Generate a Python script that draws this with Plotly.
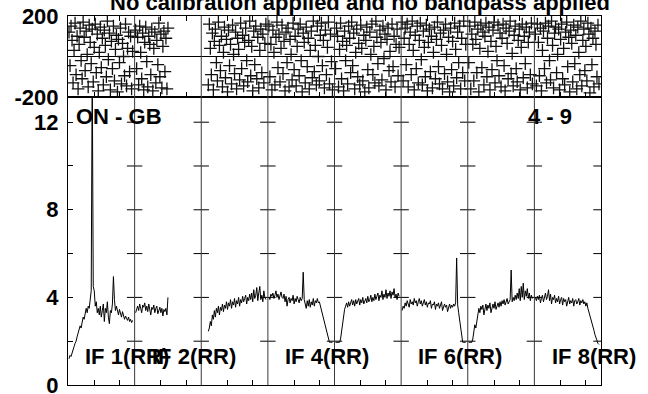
import plotly.graph_objects as go

# ---------------- data ----------------
title_text = "No calibration applied and no bandpass applied"
source_label = "ON - GB"
baseline_label = "4 - 9"
if_labels = ["IF 1(RR)", "IF 2(RR)", "IF 3(RR)", "IF 4(RR)", "IF 5(RR)", "IF 6(RR)", "IF 7(RR)", "IF 8(RR)"]
shown_if_labels = [1, 2, 4, 6, 8]
channels_per_if = 64
first_channel = [0, 0, 6, 0, 0, 0, 0, 0]

amp_if1 = [1.2, 1.35, 1.3, 1.5, 1.6, 1.75, 1.9, 2.0, 2.2, 2.35, 2.5, 2.7,
           2.6, 2.9, 3.1, 3.0, 3.3, 3.5, 3.3, 3.6, 3.5, 4.0, 4.3, 14.5,
           4.5, 4.3, 3.6, 3.8, 3.3, 3.5, 3.2, 3.6, 3.1, 3.4, 3.7, 2.9,
           3.5, 3.3, 3.8, 3.1, 2.8, 3.4, 3.3, 3.7, 4.95, 3.9, 3.4, 3.6,
           3.4, 3.2, 3.45, 3.3, 3.1, 3.35, 3.2, 3.0, 3.15, 3.05, 2.95, 3.1,
           2.9, 3.0, 2.85, 2.95]
amp_if2 = [3.3, 3.45, 3.6, 3.4, 3.7, 3.5, 3.3, 3.65, 3.55, 3.75, 3.4, 3.6,
           3.35, 3.7, 3.5, 3.2, 3.55, 3.45, 3.65, 3.3, 3.5, 3.6, 3.25, 3.45,
           3.55, 3.3, 3.5, 3.15, 3.45, 3.35, 3.5, 3.2, 4.0]
amp_if3 = [2.45, 2.6, 2.9, 2.7, 3.2, 3.0, 3.4, 3.1, 3.5, 3.3, 3.6, 3.2,
           3.55, 3.4, 3.7, 3.35, 3.65, 3.5, 3.8, 3.45, 3.75, 3.6, 3.9, 3.5,
           3.8, 3.65, 3.95, 3.55, 3.85, 3.7, 4.0, 3.6, 3.9, 3.75, 4.05, 3.8,
           3.95, 4.1, 3.7, 4.0, 3.85, 4.15, 3.9, 4.2, 3.8, 4.35, 3.95, 4.1,
           4.45, 3.85, 4.2, 4.5, 3.9, 4.1, 3.8, 4.3, 4.0, 3.9]
amp_if4 = [4.0, 3.9, 4.15, 4.05, 4.2, 3.95, 4.1, 4.3, 4.0, 4.15, 3.9, 4.1,
           4.25, 4.0, 3.95, 4.15, 3.8, 4.05, 3.6, 3.9, 4.0, 3.75, 3.95, 3.85,
           4.1, 3.7, 3.95, 3.8, 4.05, 3.9, 3.75, 4.0, 3.85, 3.95, 5.15, 3.9,
           3.7, 3.5, 3.85, 3.6, 3.9, 3.55, 3.8, 3.65, 3.95, 3.6, 3.85, 3.75,
           3.95, 3.75, 3.8, 3.6, 3.5, 3.3, 3.05, 2.85, 2.6, 2.45, 2.3, 2.1,
           1.95, 1.95, 1.95, 1.95]
amp_if5 = [1.95, 1.95, 1.95, 1.95, 1.95, 2.1, 2.5, 2.9, 3.2, 3.45, 3.6, 3.75,
           3.55, 3.8, 3.6, 3.75, 3.9, 3.65, 3.85, 3.6, 3.9, 3.7, 3.8, 3.95,
           3.65, 3.9, 3.75, 4.0, 3.7, 3.85, 3.95, 3.75, 4.05, 3.8, 3.9, 4.1,
           3.8, 4.0, 3.85, 4.15, 3.9, 4.05, 4.2, 3.85, 4.1, 4.0, 4.3, 3.9,
           4.15, 4.0, 4.35, 3.95, 4.2, 4.05, 4.3, 3.95, 4.25, 4.1, 4.4, 4.0,
           4.15, 3.9, 4.2, 4.05]
amp_if6 = [3.4, 3.6, 3.5, 3.75, 3.6, 3.85, 3.7, 3.55, 3.9, 3.7, 3.8, 3.65,
           3.95, 3.75, 3.85, 3.6, 3.8, 3.95, 3.7, 3.85, 3.6, 3.75, 3.9, 3.65,
           3.8, 3.55, 3.75, 3.7, 3.85, 3.5, 3.7, 3.65, 3.8, 3.45, 3.7, 3.6,
           3.75, 3.5, 3.65, 3.8, 3.4, 3.6, 3.7, 3.55, 3.65, 3.35, 3.6, 3.7,
           3.5, 3.65, 3.55, 3.7, 3.6, 3.75, 5.8, 3.65, 3.3, 2.9, 2.5, 2.15,
           1.95, 1.95, 1.95, 1.95]
amp_if7 = [1.95, 1.95, 1.95, 1.95, 2.1, 2.4, 2.75, 2.6, 3.0, 3.25, 3.5, 3.3,
           3.6, 3.45, 3.65, 3.2, 3.55, 3.7, 3.4, 3.65, 3.5, 3.75, 3.3, 3.6,
           3.7, 3.5, 3.8, 3.45, 3.65, 3.75, 3.55, 3.8, 3.6, 3.85, 3.7, 3.9,
           3.65, 3.8, 3.95, 3.7, 3.85, 3.9, 5.25, 3.8, 4.0, 3.85, 4.1, 3.9,
           4.2, 3.95, 4.4, 3.85, 4.5, 4.0, 4.65, 3.9, 4.3, 4.05, 4.4, 3.95,
           4.2, 3.85, 4.1, 3.95]
amp_if8 = [4.0, 3.85, 4.05, 3.9, 4.1, 3.75, 3.95, 4.1, 3.8, 4.0, 4.2, 3.9,
           4.05, 4.35, 3.85, 4.15, 3.7, 4.0, 3.9, 4.1, 3.75, 3.95, 3.8, 4.05,
           3.7, 3.9, 4.0, 3.65, 3.95, 3.8, 3.9, 3.6, 3.85, 4.0, 3.7, 3.85,
           3.75, 3.95, 3.6, 3.85, 3.9, 3.7, 3.8, 3.95, 3.65, 3.85, 3.75, 3.9,
           3.7, 3.8, 3.6, 3.75, 3.5, 3.35, 3.15, 3.0, 2.85, 2.7, 2.5, 2.3,
           2.15, 2.0, 1.9, 1.85]

phase_if1 = [120, -45, 150, 80, -130, 30, 165, -90, 100, -160, 60, 140, -20, -110, 170, 95,
             -70, 125, 10, -150, 155, 70, -35, 135, -125, 45, 160, -80, 110, -170, 20, 145,
             -55, 90, -140, 130, 55, -100, 175, -15, 115, -165, 75, -60, 150, -120, 35, 105,
             -175, 85, -30, 140, -135, 65, 0, -95, 160, -145, 40, 120, -75, 100, -160, 25]
phase_if2 = [130, -60, 95, -140, 150, 20, -110, 115, -165, 70, 145, -25, -150, 100, 60, -90,
             135, -170, 40, 120, -130, 80, -40, 165, -100, 110, -155, 50, 125, -75, 90, -160, 140]
phase_if3 = [-140, 160, 40, -90, 115, -165, 75, 135, -30, -120, 170, 55, -70, 100, -150, 20,
             145, -105, 85, -175, 130, -45, 60, -135, 155, 10, -85, 120, -160, 90, 35, -115,
             165, -60, 105, -145, 70, 140, -20, -125, 80, 175, -95, 50, -170, 125, -40, 150,
             -110, 95, -155, 30, 135, -80, 110, -130, 65, 160]
phase_if4 = [150, -100, 60, -165, 130, 20, -140, 95, 170, -55, 110, -125, 40, 155, -85, 75,
             -170, 120, -30, 140, -150, 85, 10, -115, 165, -65, 100, -145, 50, 135, -95, 160,
             -20, -175, 115, 70, -130, 145, -50, 90, -160, 30, 125, -105, 175, -75, 55, -140,
             150, 0, -120, 105, 165, -45, 80, -155, 130, -90, 45, 170, -135, 110, -25, -165]
phase_if5 = [-60, 140, 100, -150, 35, 165, -110, 75, -170, 125, -20, 55, -135, 150, 90, -80,
             170, -45, 115, -160, 20, 135, -100, 65, -140, 155, 40, -120, 105, -175, 80, 145,
             -65, -155, 120, 10, 160, -90, 50, -130, 175, 95, -35, -145, 130, 70, -115, 150,
             -10, 110, -165, 85, 140, -70, 25, -125, 160, -50, 100, -150, 60, 135, -95, 45]
phase_if6 = [170, -120, 90, 140, -40, 160, -150, 60, 120, -90, 175, 30, -165, 105, -60, 150,
             -130, 80, 165, -15, -140, 125, 45, -100, 155, -170, 70, 135, -75, 100, -155, 20,
             145, -110, 85, 170, -50, -135, 115, 55, -160, 130, -85, 160, 10, -125, 95, -175,
             140, -65, 75, -145, 165, 35, -105, 120, -30, 150, -160, 90, -80, 175, -120, 60]
phase_if7 = [-30, 150, -160, 110, 60, -120, 170, 85, -80, 135, -175, 40, 155, -55, 120, -140,
             100, 165, -100, 25, 145, -165, 75, -65, 130, 170, -130, 50, -20, 155, -95, 115,
             -150, 90, 160, -45, -170, 140, 65, -110, 125, 175, -85, 15, -145, 105, 150, -60,
             -125, 80, 135, -165, 45, 160, -105, 100, -35, 145, -155, 70, 120, -90, 165, -135]
phase_if8 = [110, -145, 160, 70, -95, 140, -170, 30, 125, -60, 165, -130, 90, 150, -20, -115,
             175, 55, -155, 115, 145, -80, 10, 135, -165, 85, 160, -110, 40, -140, 120, 170,
             -50, 95, -175, 130, 65, -125, 155, -35, 105, -160, 145, 20, -90, 175, -145, 80,
             135, -70, 50, -120, 165, 110, -180, 140, -40, 90, -150, 125, 60, -100, 155, -135]

amp_lists = [amp_if1, amp_if2, amp_if3, amp_if4, amp_if5, amp_if6, amp_if7, amp_if8]
phase_lists = [phase_if1, phase_if2, phase_if3, phase_if4, phase_if5, phase_if6, phase_if7, phase_if8]

amp_ticks = [0, 2, 4, 6, 8, 10, 12]
amp_ticktext = ["0", "", "4", "", "8", "", "12"]
phase_ticks = [-200, 200]
phase_ticktext = ["-200", "200"]
panel_ticks = [25, 50]

# ---------------- figure ----------------
PANEL = channels_per_if + 2
n_if = len(if_labels)
FONT = "Liberation Sans, Arial, sans-serif"
split = (385 - 97) / 369.0

fig = go.Figure()

for i in range(n_if):
    xs_a = [i * PANEL + 1 + first_channel[i] + j for j in range(len(amp_lists[i]))]
    fig.add_trace(go.Scatter(x=xs_a, y=amp_lists[i], mode="lines",
                             line=dict(color="black", width=1),
                             xaxis="x", yaxis="y", showlegend=False, hoverinfo="skip"))
    xs_p = [i * PANEL + 1 + first_channel[i] + j for j in range(len(phase_lists[i]))]
    fig.add_trace(go.Scatter(x=xs_p, y=phase_lists[i], mode="markers",
                             marker=dict(symbol="cross-thin", size=9,
                                         line=dict(color="#111111", width=1.3)),
                             xaxis="x2", yaxis="y2", showlegend=False, hoverinfo="skip"))

# tick crosses on each panel boundary in the amplitude panel
bx, by = [], []
for i in range(1, n_if + 1):
    for t in amp_ticks[1:]:
        bx.append(i * PANEL)
        by.append(t)
fig.add_trace(go.Scatter(x=bx, y=by, mode="markers",
                         marker=dict(symbol="line-ew", size=11,
                                     line=dict(color="black", width=1)),
                         xaxis="x", yaxis="y", showlegend=False, hoverinfo="skip"))

# panel separators
for i in range(1, n_if):
    fig.add_shape(type="line", xref="x", yref="paper", x0=i * PANEL, x1=i * PANEL,
                  y0=0, y1=1, line=dict(color="#3a3a3a", width=1))

xt = [i * PANEL + 1 + t for i in range(n_if) for t in panel_ticks]
bold = dict(family=FONT, size=22, color="black", weight="bold")

fig.update_layout(
    width=648, height=394,
    margin=dict(l=68, r=47, t=16, b=9, autoexpand=False),
    plot_bgcolor="white", paper_bgcolor="white",
    font=bold,
    xaxis=dict(domain=[0, 1], range=[0, n_if * PANEL], anchor="y", automargin=False,
               tickvals=xt, ticks="inside", ticklen=5, tickcolor="black",
               showticklabels=False, showgrid=False, zeroline=False, showline=True,
               linecolor="black", linewidth=1, mirror=True),
    yaxis=dict(domain=[0, split], range=[0, 13.15], anchor="x", automargin=False,
               tickvals=amp_ticks, ticktext=amp_ticktext, ticks="inside", ticklen=5,
               tickcolor="black", ticklabelstandoff=4, tickfont=bold,
               ticklabeloverflow="allow",
               showgrid=False, zeroline=False, showline=True,
               linecolor="black", linewidth=1, mirror=True),
    xaxis2=dict(domain=[0, 1], range=[0, n_if * PANEL], anchor="y2", matches="x",
                automargin=False,
                tickvals=xt, ticks="inside", ticklen=5, tickcolor="black",
                showticklabels=False, showgrid=False, zeroline=False, showline=True,
                linecolor="black", linewidth=1, mirror="ticks"),
    yaxis2=dict(domain=[split, 1], range=[-200, 200], anchor="x2", automargin=False,
                tickvals=phase_ticks, ticktext=phase_ticktext, ticks="",
                ticklabelstandoff=4, tickfont=bold, ticklabeloverflow="allow",
                showgrid=False, zeroline=True, zerolinecolor="black", zerolinewidth=1,
                showline=True, linecolor="black", linewidth=1, mirror=True),
)

annots = []
annots.append(dict(text=title_text, xref="paper", yref="paper", x=(360 - 68) / 533.0,
                   y=1 + 13 / 369.0, xanchor="center", yanchor="middle", showarrow=False,
                   font=bold))
annots.append(dict(text=source_label, xref="x", yref="y", x=6, y=12.24,
                   xanchor="left", yanchor="middle", showarrow=False, font=bold))
annots.append(dict(text=baseline_label, xref="x", yref="y", x=477.5, y=12.24,
                   xanchor="center", yanchor="middle", showarrow=False, font=bold))
for k in shown_if_labels:
    i = k - 1
    annots.append(dict(text=if_labels[i], xref="x", yref="y", x=i * PANEL + 15, y=1.28,
                       xanchor="left", yanchor="middle", showarrow=False, font=bold))
fig.update_layout(annotations=annots)

fig.write_html("out.html", config={"displayModeBar": False},
               post_script="document.body.style.margin='0px';")
